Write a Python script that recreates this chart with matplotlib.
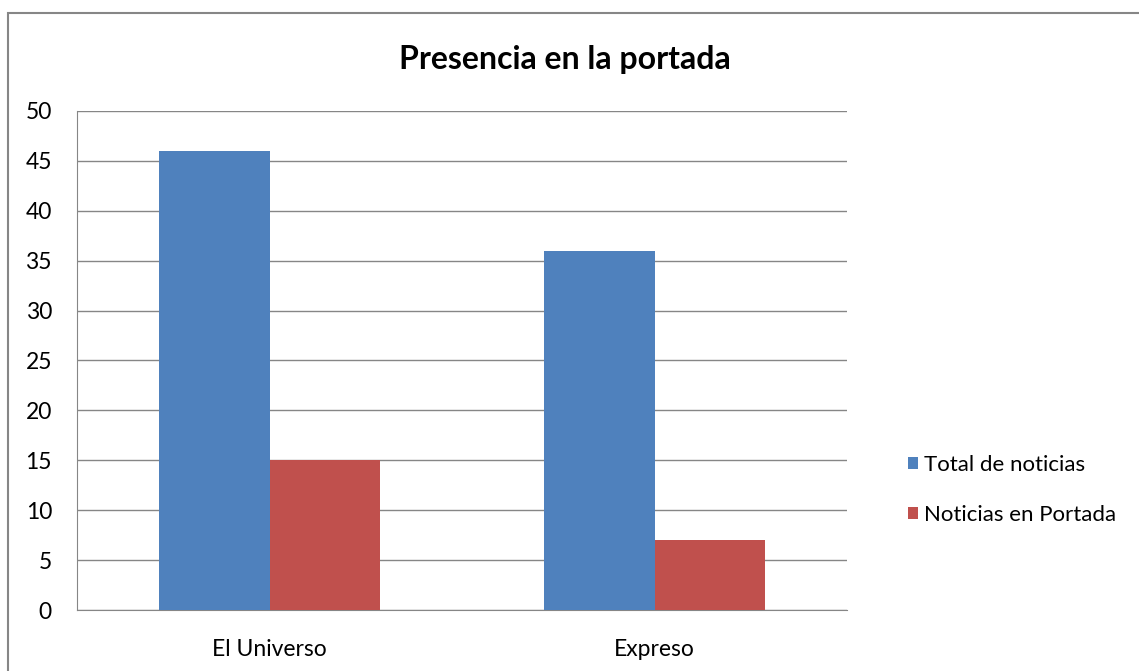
import matplotlib.pyplot as plt
from matplotlib.patches import Rectangle
import numpy as np

plt.rcParams['font.family'] = ['Lato', 'DejaVu Sans']

categories = ["El Universo", "Expreso"]
total_noticias = [46, 36]
noticias_portada = [15, 7]
series_names = ["Total de noticias", "Noticias en Portada"]

fig = plt.figure(figsize=(11.39, 6.71), dpi=100)
ax = fig.add_axes([0.0676, 0.0909, 0.6761, 0.7437])

x = np.arange(len(categories))
w = 0.286
ax.bar(x - w / 2, total_noticias, w, color="#4f81bd", label=series_names[0], zorder=3)
ax.bar(x + w / 2, noticias_portada, w, color="#c0504d", label=series_names[1], zorder=3)

ax.set_xlim(-0.5, 1.5)
ax.set_ylim(0, 50)
ax.set_yticks(range(0, 51, 5))
ax.set_xticks(x)
ax.set_xticklabels(categories)
ax.tick_params(axis="both", length=0, labelsize=16.5)
ax.tick_params(axis="y", pad=18)
ax.tick_params(axis="x", pad=21)
ax.grid(axis="y", color="#868686", linewidth=1, zorder=0)
for s in ax.spines.values():
    s.set_color("#868686")
ax.spines["top"].set_visible(False)
ax.spines["right"].set_visible(False)

fig.text(0.496, 0.912, "Presencia en la portada", ha="center", va="center",
         fontsize=23, fontweight="bold")

fig.legend(loc="center left", bbox_to_anchor=(0.78, 0.27), frameon=False,
           fontsize=16, handlelength=0.45, handleheight=0.45, handletextpad=0.25,
           labelspacing=1.35)

fig.add_artist(Rectangle((8 / 1139, -0.05), 1.2, 1.05 - 13 / 671,
                         transform=fig.transFigure, fill=False,
                         edgecolor="#868686", linewidth=1.5))

fig.savefig("out.png", dpi=100)
